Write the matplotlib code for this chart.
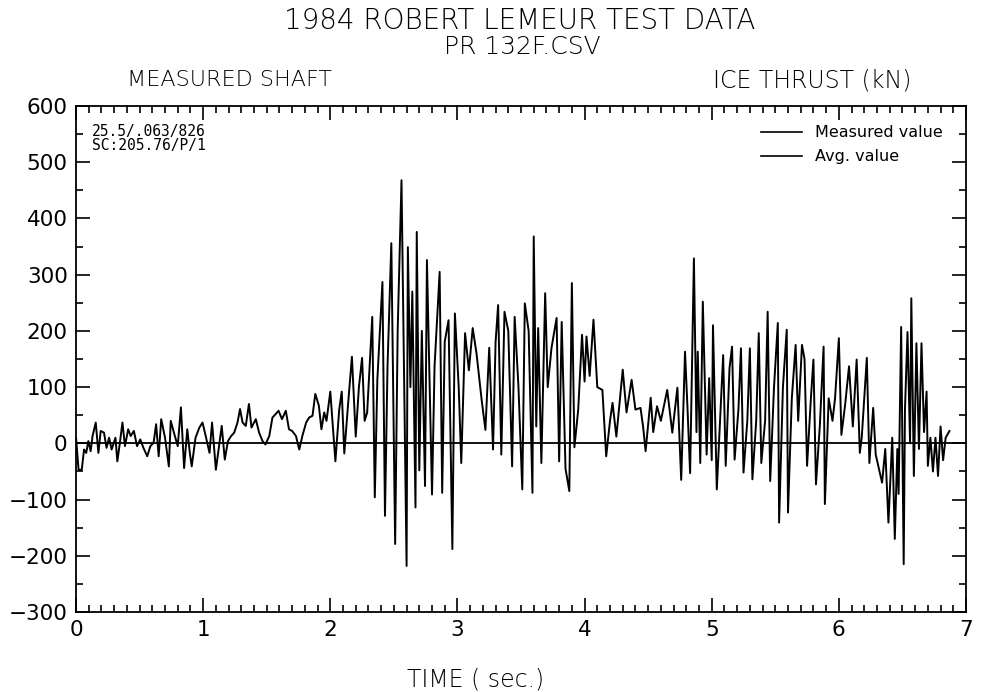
import matplotlib.pyplot as plt
import numpy as np
from matplotlib.lines import Line2D
from matplotlib.ticker import MultipleLocator

# shaft ice thrust (kN) vs time (sec), hand
t_quiet = [0.00, 0.02, 0.045, 0.063, 0.08, 0.097, 0.115, 0.13, 0.155, 0.176, 0.194, 0.22,
           0.24, 0.26, 0.28, 0.31, 0.325, 0.345, 0.365, 0.385, 0.41, 0.43, 0.455, 0.48,
           0.505, 0.53, 0.56, 0.585, 0.61, 0.63, 0.65, 0.67, 0.70, 0.73, 0.745, 0.77,
           0.80, 0.825, 0.85, 0.875, 0.895, 0.91, 0.94, 0.97, 0.995, 1.02, 1.05, 1.07,
           1.10, 1.125, 1.146, 1.17, 1.195, 1.22, 1.244, 1.27, 1.29, 1.31, 1.335, 1.36,
           1.38, 1.414, 1.44, 1.467, 1.49, 1.52, 1.545, 1.57, 1.593, 1.62, 1.65, 1.675,
           1.70, 1.73, 1.756, 1.78, 1.81, 1.834, 1.86, 1.882, 1.91, 1.93, 1.952, 1.97]
v_quiet = [10, -47, -47, -11, -17, 4, -14, 13, 37, -17, 22, 19,
           -8, 10, -11, 10, -32, 1, 37, -5, 25, 13, 22, -5,
           7, -8, -23, -5, 1, 34, -23, 43, 10, -41, 40, 19,
           -5, 64, -44, 25, -17, -41, 10, 28, 37, 13, -17, 37,
           -47, -5, 31, -29, 4, 13, 19, 37, 61, 37, 31, 70,
           28, 43, 19, 4, -2, 13, 46, 52, 58, 43, 58, 25,
           22, 13, -11, 13, 37, 46, 49, 88, 67, 25, 55, 40]

t_burst1 = [2.00, 2.04, 2.07, 2.09, 2.11, 2.14, 2.17, 2.20, 2.225, 2.25, 2.27, 2.29,
            2.33, 2.35, 2.37, 2.41, 2.43, 2.45, 2.48, 2.51, 2.53, 2.56, 2.60, 2.61,
            2.63, 2.645, 2.67, 2.68, 2.70, 2.72, 2.745, 2.76, 2.80, 2.82, 2.86, 2.88,
            2.90, 2.93, 2.96, 2.98, 3.01, 3.03, 3.06, 3.09, 3.12, 3.15, 3.19, 3.22,
            3.25, 3.28, 3.30, 3.32, 3.345, 3.37, 3.40, 3.43, 3.45, 3.48, 3.51, 3.53,
            3.56, 3.59, 3.60, 3.62, 3.635, 3.66, 3.69, 3.71, 3.74, 3.78, 3.80, 3.82,
            3.85, 3.88, 3.90, 3.92, 3.95, 3.98, 4.00, 4.015, 4.04, 4.07, 4.10, 4.14,
            4.17, 4.20]
v_burst1 = [92, -32, 60, 92, -18, 70, 154, 12, 100, 152, 40, 55,
            225, -96, 113, 287, -129, 137, 356, -179, 202, 468, -218, 349,
            100, 270, -114, 376, -48, 200, -76, 326, -91, 137, 305, -88,
            181, 219, -188, 231, 100, -35, 196, 130, 205, 160, 78, 24,
            170, -11, 180, 246, -20, 234, 200, -41, 225, 100, -82, 249,
            200, -88, 368, 30, 205, -35, 267, 100, 170, 223, -32, 216,
            -45, -85, 285, -7, 60, 193, 110, 190, 120, 220, 100, 95,
            -23, 40]

t_burst2 = [4.22, 4.25, 4.27, 4.30, 4.33, 4.37, 4.40, 4.44, 4.46, 4.48, 4.52, 4.54,
            4.57, 4.60, 4.65, 4.69, 4.73, 4.76, 4.79, 4.81, 4.83, 4.86, 4.88, 4.89,
            4.91, 4.93, 4.96, 4.98, 5.00, 5.01, 5.04, 5.07, 5.09, 5.11, 5.14, 5.16,
            5.18, 5.21, 5.23, 5.25, 5.28, 5.30, 5.32, 5.35, 5.37, 5.39, 5.42, 5.44,
            5.46, 5.49, 5.52, 5.53, 5.56, 5.59, 5.60, 5.63, 5.66, 5.68, 5.71, 5.73,
            5.75, 5.78, 5.80, 5.82, 5.85, 5.88, 5.89, 5.92, 5.95, 5.97, 6.00, 6.02,
            6.05, 6.08, 6.11, 6.14, 6.165, 6.18, 6.22, 6.24, 6.27, 6.29, 6.31, 6.34,
            6.365, 6.39, 6.42, 6.44, 6.46, 6.47, 6.49, 6.51, 6.52, 6.54, 6.56, 6.57,
            6.59, 6.61, 6.63, 6.65, 6.67, 6.69, 6.70, 6.72, 6.74, 6.76, 6.78, 6.80,
            6.82, 6.84, 6.87]
v_burst2 = [72, 12, 60, 131, 55, 113, 60, 63, 30, -14, 81, 20,
            66, 40, 95, 19, 99, -65, 163, 60, -53, 329, 20, 163,
            -35, 252, -20, 116, -30, 210, -82, 60, 157, -40, 134, 172,
            -29, 60, 169, -52, 40, 169, -64, 40, 196, -35, 40, 234,
            -67, 100, 214, -141, 100, 202, -123, 80, 175, 40, 175, 150,
            -40, 80, 149, -73, 30, 172, -108, 80, 40, 80, 187, 15,
            70, 137, 30, 149, -17, 10, 152, -35, 63, -20, -40, -70,
            -10, -141, 10, -170, -10, -90, 207, -215, 60, 198, 0, 258,
            -58, 178, -10, 178, 20, 92, -40, 10, -50, 10, -58, 30,
            -30, 10, 22]

time = np.array(t_quiet + t_burst1 + t_burst2)
thrust = np.array(v_quiet + v_burst1 + v_burst2)

fig = plt.figure(figsize=(9.81, 6.92), dpi=100)
ax = fig.add_axes([0.0775, 0.1156, 0.9072, 0.7312])

ax.plot(time, thrust, color='black', lw=1.4)
ax.axhline(0, color='black', lw=1.3)

ax.set_xlim(0, 7)
ax.set_ylim(-300, 600)
ax.xaxis.set_major_locator(MultipleLocator(1))
ax.xaxis.set_minor_locator(MultipleLocator(0.1))
ax.yaxis.set_major_locator(MultipleLocator(100))
ax.yaxis.set_minor_locator(MultipleLocator(50))
ax.tick_params(which='both', direction='in', top=True, right=True, width=1.2)
ax.tick_params(which='major', length=10, labelsize=15.5, pad=6)
ax.tick_params(which='minor', length=5)
for s in ax.spines.values():
    s.set_linewidth(1.3)

fig.text(0.53, 0.970, '1984 ROBERT LEMEUR TEST DATA', ha='center', va='center',
         fontsize=20, fontweight='light')
fig.text(0.532, 0.932, 'PR 132F.CSV', ha='center', va='center', fontsize=18, fontweight='light')
fig.text(0.234, 0.884, 'MEASURED SHAFT', ha='center', va='center', fontsize=16, fontweight='light')
fig.text(0.828, 0.884, 'ICE THRUST (kN)', ha='center', va='center', fontsize=17, fontweight='light')
fig.text(0.485, 0.018, 'TIME ( sec.)', ha='center', va='center', fontsize=17, fontweight='light')

ax.text(0.018, 0.965, '25.5/.063/826\nSC:205.76/P/1', transform=ax.transAxes,
        ha='left', va='top', fontsize=10.5, linespacing=0.95, family='DejaVu Sans Mono')

handles = [Line2D([], [], color='black', lw=1.2), Line2D([], [], color='black', lw=1.2)]
ax.legend(handles, ['Measured value', 'Avg. value'], loc='upper right', frameon=False,
          fontsize=11.5, handlelength=2.6, handletextpad=0.8, labelspacing=0.55,
          bbox_to_anchor=(0.99, 0.99))

fig.savefig('out.png', dpi=100)
